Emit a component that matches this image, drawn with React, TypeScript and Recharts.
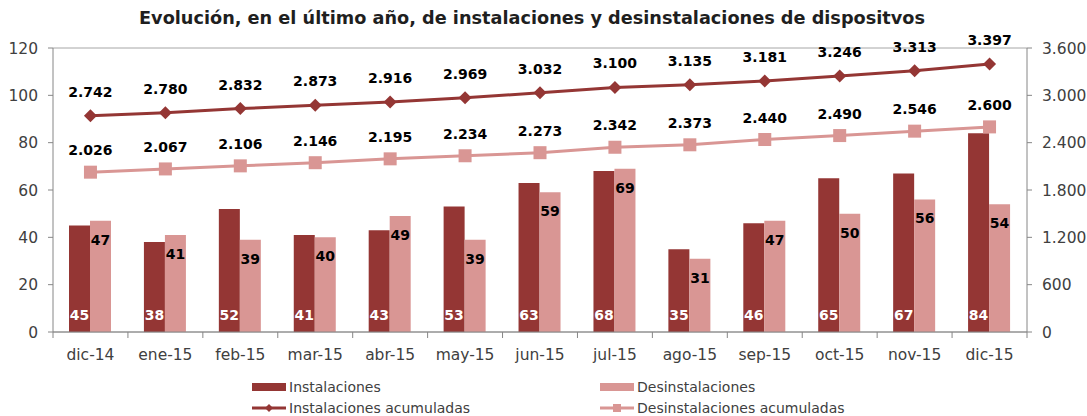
import { ComposedChart, Bar, Line, XAxis, YAxis, CartesianGrid, Legend, LabelList } from 'recharts';

const MONTHS = ['dic-14', 'ene-15', 'feb-15', 'mar-15', 'abr-15', 'may-15', 'jun-15', 'jul-15', 'ago-15', 'sep-15', 'oct-15', 'nov-15', 'dic-15'];
const INSTALACIONES = [45, 38, 52, 41, 43, 53, 63, 68, 35, 46, 65, 67, 84];
const DESINSTALACIONES = [47, 41, 39, 40, 49, 39, 59, 69, 31, 47, 50, 56, 54];
const INST_ACUM = [2742, 2780, 2832, 2873, 2916, 2969, 3032, 3100, 3135, 3181, 3246, 3313, 3397];
const DESINST_ACUM = [2026, 2067, 2106, 2146, 2195, 2234, 2273, 2342, 2373, 2440, 2490, 2546, 2600];
const LEFT_TICKS = [0, 20, 40, 60, 80, 100, 120];
const RIGHT_TICKS = [0, 600, 1200, 1800, 2400, 3000, 3600];

const DARK = '#943634';
const LIGHT = '#D99694';
const AXIS = '#868686';
const TEXT = '#404040';
const FONT = '"DejaVu Sans", sans-serif';

const data = MONTHS.map((m, i) => ({
  month: m,
  inst: INSTALACIONES[i],
  desinst: DESINSTALACIONES[i],
  instAcum: INST_ACUM[i],
  desinstAcum: DESINST_ACUM[i],
}));

const fmt = (v: number) => String(v).replace(/\B(?=(\d{3})+(?!\d))/g, '.');

const Diamond = (props: any) => {
  const { cx, cy } = props;
  if (cx == null || cy == null) return null;
  const r = 6.5;
  return <polygon points={`${cx},${cy - r} ${cx + r},${cy} ${cx},${cy + r} ${cx - r},${cy}`} fill={DARK} />;
};

const Square = (props: any) => {
  const { cx, cy } = props;
  if (cx == null || cy == null) return null;
  return <rect x={cx - 6.5} y={cy - 6.5} width={13} height={13} fill={LIGHT} />;
};

const MonthTick = (props: any) => {
  const { x, y, payload, index } = props;
  const half = payload?.offset ?? 37.5;
  const last = index === MONTHS.length - 1;
  return (
    <g>
      <line x1={x - half} x2={x - half} y1={y - 8} y2={y - 2} stroke={AXIS} />
      {last && <line x1={x + half} x2={x + half} y1={y - 8} y2={y - 2} stroke={AXIS} />}
      <text x={x} y={y} dy={20} textAnchor="middle" fill={TEXT} fontSize={15.5} fontFamily={FONT}>
        {payload.value}
      </text>
    </g>
  );
};

const LegendBox = () => {
  const item = (left: number, top: number, swatch: JSX.Element, label: string) => (
    <div style={{ position: 'absolute', left, top, display: 'flex', alignItems: 'center', height: 20 }}>
      <svg width={36} height={14} style={{ marginRight: 1 }}>{swatch}</svg>
      <span style={{ fontFamily: FONT, fontSize: 14, color: TEXT }}>{label}</span>
    </div>
  );
  return (
    <div style={{ position: 'relative', width: 1087, height: 54 }}>
      {item(252, 15, <rect x={0} y={3} width={34} height={8} fill={DARK} />, 'Instalaciones')}
      {item(600, 15, <rect x={0} y={3} width={34} height={8} fill={LIGHT} />, 'Desinstalaciones')}
      {item(252, 36, <g><line x1={0} x2={34} y1={7} y2={7} stroke={DARK} strokeWidth={3} /><polygon points="17,3 21,7 17,11 13,7" fill={DARK} /></g>, 'Instalaciones acumuladas')}
      {item(600, 36, <g><line x1={0} x2={34} y1={7} y2={7} stroke={LIGHT} strokeWidth={3} /><rect x={13} y={3} width={8} height={8} fill={LIGHT} /></g>, 'Desinstalaciones acumuladas')}
    </div>
  );
};

export default function App() {
  return (
    <div style={{ position: 'absolute', left: 0, top: 0, width: 1087, height: 416, background: '#fff' }}>
      <div
        style={{
          position: 'absolute',
          left: 0,
          top: 8,
          width: 1064,
          textAlign: 'center',
          fontFamily: FONT,
          fontWeight: 'bold',
          fontSize: 17.7,
          color: '#1f1f1f',
          zIndex: 1,
        }}
      >
        Evolución, en el último año, de instalaciones y desinstalaciones de dispositvos
      </div>
      <ComposedChart
        width={1087}
        height={416}
        data={data}
        margin={{ top: 48, right: 0, left: 0, bottom: 0 }}
        barCategoryGap={16}
        barGap={0}
      >
        <CartesianGrid vertical={false} stroke="#a6a6a6" />
        <XAxis
          dataKey="month"
          height={30}
          tickLine={false}
          tickSize={6}
          tickMargin={2}
          stroke={AXIS}
          tick={<MonthTick />}
          interval={0}
        />
        <YAxis
          yAxisId="left"
          width={53}
          domain={[0, 120]}
          ticks={LEFT_TICKS}
          stroke={AXIS}
          tickSize={5}
          tickMargin={10}
          tick={{ fill: TEXT, fontSize: 15.5, fontFamily: FONT }}
        />
        <YAxis
          yAxisId="right"
          orientation="right"
          width={60}
          domain={[0, 3600]}
          ticks={RIGHT_TICKS}
          stroke={AXIS}
          tickSize={5}
          tickMargin={10}
          tickFormatter={fmt}
          tick={{ fill: TEXT, fontSize: 15.5, fontFamily: FONT }}
        />
        <Legend verticalAlign="bottom" height={54} wrapperStyle={{ left: 0, width: 1087 }} content={<LegendBox />} />
        <Bar yAxisId="left" dataKey="inst" name="Instalaciones" fill={DARK} isAnimationActive={false}>
          <LabelList dataKey="inst" position="insideBottom" offset={12} fill="#fff" fontSize={14} fontWeight="bold" fontFamily={FONT} />
        </Bar>
        <Bar yAxisId="left" dataKey="desinst" name="Desinstalaciones" fill={LIGHT} isAnimationActive={false}>
          <LabelList dataKey="desinst" position="insideTop" offset={14} fill="#000" fontSize={14} fontWeight="bold" fontFamily={FONT} />
        </Bar>
        <Line
          yAxisId="right"
          dataKey="instAcum"
          name="Instalaciones acumuladas"
          stroke={DARK}
          strokeWidth={3}
          dot={<Diamond />}
          activeDot={false}
          isAnimationActive={false}
        >
          <LabelList dataKey="instAcum" position="top" offset={19} formatter={(v: any) => fmt(Number(v))} fill="#000" fontSize={14} fontWeight="bold" fontFamily={FONT} />
        </Line>
        <Line
          yAxisId="right"
          dataKey="desinstAcum"
          name="Desinstalaciones acumuladas"
          stroke={LIGHT}
          strokeWidth={3}
          dot={<Square />}
          activeDot={false}
          isAnimationActive={false}
        >
          <LabelList dataKey="desinstAcum" position="top" offset={17} formatter={(v: any) => fmt(Number(v))} fill="#000" fontSize={14} fontWeight="bold" fontFamily={FONT} />
        </Line>
      </ComposedChart>
    </div>
  );
}
